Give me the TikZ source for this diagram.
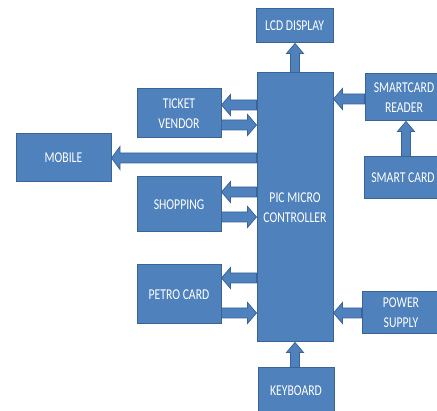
\documentclass[tikz,border=0pt]{standalone}
\usepackage{fontspec}
\newfontfamily\boxfont{Carlito}[FakeStretch=0.78]
\usetikzlibrary{calc}
\definecolor{boxfill}{HTML}{4F81BD}
\definecolor{boxline}{HTML}{3A6496}
\begin{document}
\begin{tikzpicture}[x=1pt,y=-1pt,
  box/.style={draw=boxline, fill=boxfill, line width=1pt, text=white,
    font=\boxfont\fontsize{15}{20}\selectfont, align=center, inner sep=0pt},
  barrow/.style n args={3}{draw=boxline, fill=boxfill, line width=0.8pt, line join=miter,
    to path={
      ($(\tikztostart)!#1!90:(\tikztotarget)$)
      -- ($(\tikztotarget)!#3!(\tikztostart)!#1!-90:(\tikztostart)$)
      -- ($(\tikztotarget)!#3!(\tikztostart)!#2!-90:(\tikztostart)$)
      -- (\tikztotarget)
      -- ($(\tikztotarget)!#3!(\tikztostart)!#2!90:(\tikztostart)$)
      -- ($(\tikztotarget)!#3!(\tikztostart)!#1!90:(\tikztostart)$)
      -- ($(\tikztostart)!#1!-90:(\tikztotarget)$) -- cycle}},
  harrow/.style={barrow={5pt}{10.5pt}{9pt}},
  varrow/.style={barrow={4.5pt}{8.5pt}{10pt}}]
\useasboundingbox (0,0) rectangle (437,411);
\begin{scope}
\clip (0,0) rectangle (437,411);
\node[box, minimum width=77pt, minimum height=34pt] (lcd) at (294.5,26) {LCD DISPLAY};
\node[box, minimum width=76pt, minimum height=269pt] (pic) at (295,207.5) {PIC MICRO\\CONTROLLER};
\node[box, minimum width=78pt, minimum height=47pt] (scr) at (404,97.5) {SMARTCARD\\READER};
\node[box, minimum width=78pt, minimum height=42pt] (sc) at (403,178) {SMART CARD};
\node[box, minimum width=84pt, minimum height=49pt] (tv) at (179,113.5) {TICKET\\VENDOR};
\node[box, minimum width=95pt, minimum height=48pt] (mob) at (63.5,158) {MOBILE};
\node[box, minimum width=84pt, minimum height=55pt] (shop) at (179,204.5) {SHOPPING};
\node[box, minimum width=84pt, minimum height=59pt] (petro) at (179,294.5) {PETRO CARD};
\node[box, minimum width=78pt, minimum height=42pt] (pow) at (401,313) {POWER\\SUPPLY};
\node[box, minimum width=76pt, minimum height=46pt] (kb) at (296,391) {KEYBOARD};

\draw[varrow] (pic.north -| 295,0) to (lcd.south -| 295,0);
\draw[harrow] (pic.west |- 0,105) to (tv.east |- 0,105);
\draw[harrow] (tv.east |- 0,125) to (pic.west |- 0,125);
\draw[barrow={5pt}{11.5pt}{8.5pt}] (pic.west |- 0,158) to (mob.east |- 0,158);
\draw[harrow] (pic.west |- 0,192) to (shop.east |- 0,192);
\draw[harrow] (shop.east |- 0,217) to (pic.west |- 0,217);
\draw[harrow] (pic.west |- 0,278) to (petro.east |- 0,278);
\draw[harrow] (petro.east |- 0,313) to (pic.west |- 0,313);
\draw[harrow] (scr.west |- 0,99) to (pic.east |- 0,99);
\draw[harrow] (pow.west |- 0,313) to (pic.east |- 0,313);
\draw[varrow] (sc.north -| 406,0) to (scr.south -| 406,0);
\draw[varrow] (kb.north -| 295,0) to (pic.south -| 295,0);
\end{scope}
\end{tikzpicture}
\end{document}
